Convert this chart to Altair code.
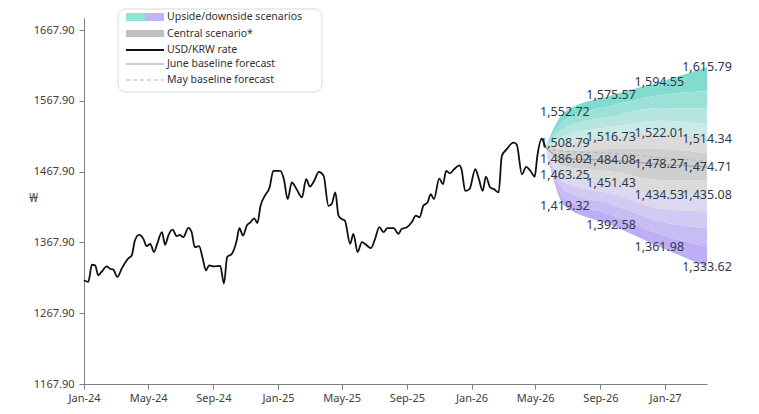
import altair as alt
import pandas as pd

# ---------------- data ----------------
act_dates = [
    "2024-01-01", "2024-01-09", "2024-01-16", "2024-01-22", "2024-01-28", "2024-02-03", "2024-02-13", "2024-02-19",
    "2024-02-25", "2024-03-04", "2024-03-12", "2024-03-25", "2024-03-31", "2024-04-06", "2024-04-14", "2024-04-22",
    "2024-04-28", "2024-05-05", "2024-05-12", "2024-05-18", "2024-05-27", "2024-06-02", "2024-06-08", "2024-06-16",
    "2024-06-24", "2024-06-30", "2024-07-06", "2024-07-16", "2024-07-22", "2024-07-28", "2024-08-05", "2024-08-12",
    "2024-08-18", "2024-08-24", "2024-09-01", "2024-09-14", "2024-09-21", "2024-09-27", "2024-10-06", "2024-10-15",
    "2024-10-20", "2024-10-27", "2024-11-03", "2024-11-10", "2024-11-17", "2024-11-23", "2024-11-29", "2024-12-07",
    "2024-12-16", "2024-12-23", "2025-01-05", "2025-01-12", "2025-01-19", "2025-01-27", "2025-02-05", "2025-02-15",
    "2025-02-23", "2025-03-02", "2025-03-10", "2025-03-19", "2025-03-28", "2025-04-06", "2025-04-12", "2025-04-19",
    "2025-04-25", "2025-05-01", "2025-05-07", "2025-05-17", "2025-05-23", "2025-05-31", "2025-06-08", "2025-06-16",
    "2025-06-25", "2025-07-03", "2025-07-11", "2025-07-19", "2025-07-26", "2025-08-07", "2025-08-16", "2025-08-22",
    "2025-09-01", "2025-09-10", "2025-09-18", "2025-09-25", "2025-10-02", "2025-10-10", "2025-10-16", "2025-10-22",
    "2025-11-01", "2025-11-08", "2025-11-14", "2025-11-21", "2025-11-29", "2025-12-09", "2025-12-13", "2025-12-20",
    "2025-12-28", "2026-01-08", "2026-01-14", "2026-01-22", "2026-01-28", "2026-02-05", "2026-02-12", "2026-02-21",
    "2026-02-27", "2026-03-08", "2026-03-21", "2026-03-27", "2026-04-06", "2026-04-14", "2026-04-23", "2026-04-30",
    "2026-05-05", "2026-05-13", "2026-05-20",
]
act_values = [
    1314.4, 1312.1, 1336.4, 1335.5, 1321.4, 1326.2, 1334.1, 1330.8, 1329.8, 1319.2,
    1330.8, 1345.8, 1349.5, 1370.6, 1378.6, 1373.0, 1362.7, 1365.9, 1354.3, 1365.9,
    1382.4, 1364.5, 1377.6, 1386.0, 1376.7, 1378.6, 1375.3, 1388.4, 1382.4, 1361.3,
    1362.7, 1344.9, 1328.4, 1335.5, 1334.1, 1334.6, 1309.8, 1347.3, 1351.9, 1370.6,
    1388.0, 1377.6, 1391.6, 1396.4, 1402.0, 1395.4, 1419.7, 1433.8, 1445.6, 1468.9,
    1468.9, 1457.2, 1429.1, 1452.6, 1443.2, 1431.5, 1457.2, 1447.0, 1454.8, 1467.5,
    1461.9, 1419.7, 1422.1, 1438.5, 1405.7, 1401.0, 1398.7, 1365.9, 1380.0, 1354.3,
    1368.3, 1364.5, 1359.9, 1373.0, 1389.4, 1382.4, 1388.0, 1388.0, 1380.0, 1387.0,
    1389.4, 1396.4, 1405.7, 1403.4, 1419.7, 1424.5, 1436.2, 1429.1, 1458.2, 1450.2,
    1468.9, 1465.7, 1471.3, 1476.9, 1471.3, 1440.8, 1443.2, 1471.3, 1459.6, 1440.8,
    1461.0, 1445.6, 1443.2, 1438.5, 1489.9, 1499.4, 1508.8, 1506.4, 1464.2, 1474.8,
    1467.8, 1460.7, 1489.9, 1514.4, 1502.2,
]

fc_dates = ["2026-05-20", "2026-06-26", "2026-09-21", "2026-12-21", "2027-03-21"]
upside_outer = [1502.2, 1552.72, 1575.57, 1594.55, 1615.79]
upside_b3 = [1502.2, 1541.0, 1561.0, 1576.0, 1582.0]
upside_b2 = [1502.2, 1530.0, 1546.0, 1558.0, 1557.0]
upside_b1 = [1502.2, 1519.0, 1531.0, 1540.0, 1535.0]
central_upper = [1502.2, 1508.79, 1516.73, 1522.01, 1514.34]
central_mid_up = [1502.2, 1497.0, 1500.0, 1500.0, 1494.0]
central = [1502.2, 1486.02, 1484.08, 1478.27, 1474.71]
central_mid_low = [1502.2, 1475.0, 1468.0, 1456.0, 1455.0]
central_lower = [1502.2, 1463.25, 1451.43, 1434.53, 1435.08]
downside_b1 = [1502.2, 1452.0, 1437.0, 1416.0, 1412.0]
downside_b2 = [1502.2, 1441.0, 1422.0, 1398.0, 1388.0]
downside_b3 = [1502.2, 1430.0, 1407.0, 1380.0, 1362.0]
downside_outer = [1502.2, 1419.32, 1392.58, 1361.98, 1333.62]
may_baseline = [1502.2, 1497.0, 1494.0, 1488.0, 1483.0]

y_ticks = [1167.90, 1267.90, 1367.90, 1467.90, 1567.90, 1667.90]
legend_labels = ["Upside/downside scenarios", "Central scenario*", "USD/KRW rate",
                 "June baseline forecast", "May baseline forecast"]

# ---------------- tables ----------------
act_df = pd.DataFrame({"date": pd.to_datetime(act_dates), "v": act_values})

bounds = [upside_outer, upside_b3, upside_b2, upside_b1, central_upper, central_mid_up, central,
          central_mid_low, central_lower, downside_b1, downside_b2, downside_b3, downside_outer]
band_names = [f"b{i}" for i in range(len(bounds) - 1)]
band_colors = ["#80dccf", "#9be1d7", "#b5e5de", "#cbe9e5", "#dbdbdb", "#cfcfcf",
               "#cfcfcf", "#dbdbdb", "#dcd8ef", "#d2caf2", "#c8bcf4", "#bdaef6"]
rows = []
for i, name in enumerate(band_names):
    for j, d in enumerate(fc_dates):
        rows.append({"date": pd.Timestamp(d), "hi": bounds[i][j], "lo": bounds[i + 1][j], "band": name})
band_df = pd.DataFrame(rows)

june_df = pd.DataFrame({"date": pd.to_datetime(fc_dates), "v": central})
may_df = pd.DataFrame({"date": pd.to_datetime(fc_dates), "v": may_baseline})

lab_rows = []
for series in [upside_outer, central_upper, central, central_lower, downside_outer]:
    for j in range(1, len(fc_dates)):
        lab_rows.append({"date": pd.Timestamp(fc_dates[j]), "v": series[j]})
lab_df = pd.DataFrame(lab_rows)

# ---------------- scales / axes ----------------
FONT = "Noto Sans"
x_scale = alt.Scale(domain=[alt.DateTime(year=2024, month=1, date=1),
                            alt.DateTime(year=2027, month=3, date=21)], nice=False)
x_ticks = [alt.DateTime(year=y, month=m, date=1) for y, m in
           [(2024, 1), (2024, 5), (2024, 9), (2025, 1), (2025, 5), (2025, 9), (2026, 1), (2026, 5), (2026, 9), (2027, 1)]]
x_axis = alt.Axis(values=x_ticks, format="%b-%y", title=None, grid=False, labelFont=FONT,
                  labelFontSize=11, labelColor="#404040", domainColor="#7f7f7f", tickColor="#7f7f7f",
                  tickSize=5, labelPadding=3, labelFlush=False)
y_scale = alt.Scale(domain=[1167.9, 1685], nice=False, zero=False)
y_axis = alt.Axis(values=y_ticks, format=".2f", title="₩", titleAngle=0, titleX=-51, titleY=179,
                  titleAlign="center", titleBaseline="middle", titleFont=FONT, titleFontSize=13,
                  titleFontWeight="normal", titleColor="#505050", grid=False, labelFont=FONT,
                  labelFontSize=11, labelColor="#404040", domainColor="#7f7f7f", tickColor="#7f7f7f",
                  tickSize=5, labelPadding=5)


def X():
    return alt.X("date:T", scale=x_scale, axis=x_axis)


def Y(field):
    return alt.Y(f"{field}:Q", scale=y_scale, axis=y_axis)


fan = alt.Chart(band_df).mark_area(interpolate="monotone", opacity=1).encode(
    x=X(), y=Y("hi"), y2="lo",
    color=alt.Color("band:N", scale=alt.Scale(domain=band_names, range=band_colors), legend=None),
)
june = alt.Chart(june_df).mark_line(interpolate="monotone", color="#9a9a9a", strokeWidth=1).encode(x=X(), y=Y("v"))
may = alt.Chart(may_df).mark_line(interpolate="monotone", color="#b5b5b5", strokeWidth=1,
                                  strokeDash=[4, 3]).encode(x=X(), y=Y("v"))
labels = alt.Chart(lab_df).mark_text(font=FONT, fontSize=12.5, color="#2e3a4c", align="center",
                                     baseline="middle").encode(
    x=X(), y=Y("v"), text=alt.Text("v:Q", format=",.2f"))
actual = alt.Chart(act_df).mark_line(interpolate="monotone", color="#111111", strokeWidth=1.8).encode(
    x=X(), y=Y("v"))

# ---------------- custom legend (pixel layout) ----------------
one = pd.DataFrame({"k": [0]})
leg = [
    alt.Chart(one).mark_rect(fill="white", stroke="#d9d9d9", strokeWidth=1, cornerRadius=8).encode(
        x=alt.value(34), x2=alt.value(238), y=alt.value(-9), y2=alt.value(74)),
    alt.Chart(one).mark_rect(fill="#8ee6d8").encode(x=alt.value(42), x2=alt.value(61), y=alt.value(-5), y2=alt.value(3)),
    alt.Chart(one).mark_rect(fill="#c4b4f5").encode(x=alt.value(61), x2=alt.value(80), y=alt.value(-5), y2=alt.value(3)),
    alt.Chart(one).mark_rect(fill="#c0c0c0").encode(x=alt.value(42), x2=alt.value(80), y=alt.value(12), y2=alt.value(19)),
    alt.Chart(one).mark_rule(color="#111111", strokeWidth=2).encode(x=alt.value(42), x2=alt.value(80), y=alt.value(32)),
    alt.Chart(one).mark_rule(color="#9a9a9a", strokeWidth=1).encode(x=alt.value(42), x2=alt.value(80), y=alt.value(46)),
    alt.Chart(one).mark_rule(color="#b5b5b5", strokeWidth=1, strokeDash=[4, 3]).encode(
        x=alt.value(42), x2=alt.value(80), y=alt.value(62)),
]
for lbl, ly in zip(legend_labels, [-1, 15.5, 31.5, 46, 62]):
    leg.append(alt.Chart(one).mark_text(font=FONT, fontSize=10.5, color="#333333", align="left",
                                        baseline="middle").encode(
        x=alt.value(83), y=alt.value(ly), text=alt.value(lbl)))

chart = alt.layer(fan, june, may, labels, actual, *leg).properties(
    width=623, height=366, background="white",
    padding={"left": 76, "top": 10, "right": 44, "bottom": 22},
    autosize=alt.AutoSizeParams(type="none"),
).configure_view(stroke=None)

chart.save("out.html", embed_options={"renderer": "svg", "actions": False})
